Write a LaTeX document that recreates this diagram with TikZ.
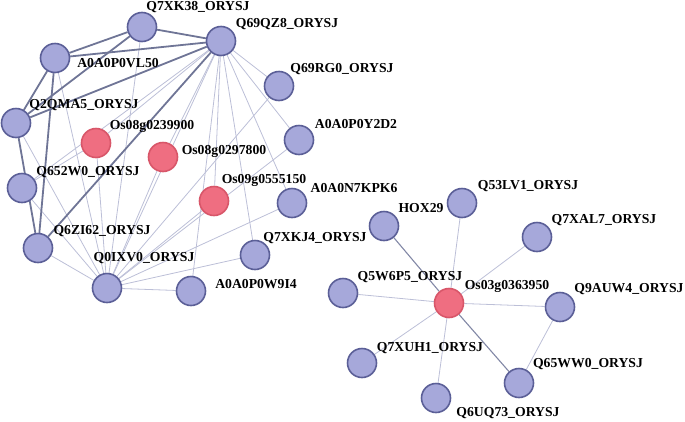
\documentclass[tikz,border=0pt]{standalone}
\usepackage{fontspec}
\setmainfont{Liberation Serif}
\usetikzlibrary{backgrounds}
\definecolor{protfill}{HTML}{A6A8DA}
\definecolor{protline}{HTML}{5B5F97}
\definecolor{genefill}{HTML}{EF6E81}
\definecolor{geneline}{HTML}{D85669}
\definecolor{strongedge}{HTML}{6F7596}
\definecolor{midedge}{HTML}{8288A6}
\definecolor{weakedge}{HTML}{BCBFD7}
\begin{document}
\begin{tikzpicture}[x=1pt,y=-1pt,
  prot/.style={circle, draw=protline, fill=protfill, line width=1.6pt, minimum size=29pt, inner sep=0pt},
  gene/.style={circle, draw=geneline, fill=genefill, line width=1.6pt, minimum size=29pt, inner sep=0pt},
  lab/.style={anchor=base, inner sep=0pt, font=\fontsize{13.7}{14}\selectfont\bfseries},
  strong/.style={draw=strongedge, line width=1.8pt},
  medium/.style={draw=midedge, line width=1.1pt},
  weak/.style={draw=weakedge, line width=0.8pt}]
\useasboundingbox (0,0) rectangle (685,421);

\node[prot] (q7xk38) at (142,27) {};
\node[prot] (q69qz8) at (221,41) {};
\node[prot] (vl50) at (55,58) {};
\node[prot] (q2qma5) at (16,123) {};
\node[gene] (os239900) at (96,143) {};
\node[gene] (os297800) at (163,157) {};
\node[prot] (q69rg0) at (279,86) {};
\node[prot] (y2d2) at (299,140) {};
\node[prot] (q652w0) at (22,188) {};
\node[gene] (os555150) at (214,201) {};
\node[prot] (kpk6) at (292,203) {};
\node[prot] (q6zi62) at (38,248) {};
\node[prot] (q7xkj4) at (255,255) {};
\node[prot] (q0ixv0) at (107,288) {};
\node[prot] (w9i4) at (191,291) {};
\node[prot] (hox29) at (384,226) {};
\node[prot] (q53lv1) at (462,203) {};
\node[prot] (q7xal7) at (537,237) {};
\node[prot] (q5w6p5) at (343,293) {};
\node[gene] (os363950) at (449,303) {};
\node[prot] (q9auw4) at (560,307) {};
\node[prot] (q7xuh1) at (362,363) {};
\node[prot] (q65ww0) at (519,383) {};
\node[prot] (q6uq73) at (436,398) {};

\node[lab] (lq7xk38) at (198,10.6) {Q7XK38\_ORYSJ};
\node[lab] (lq69qz8) at (287,27.6) {Q69QZ8\_ORYSJ};
\node[lab] (lvl50) at (118,67.6) {A0A0P0VL50};
\node[lab] (lq2qma5) at (84,108.6) {Q2QMA5\_ORYSJ};
\node[lab] (los239900) at (152,129.6) {Os08g0239900};
\node[lab] (los297800) at (224,154.6) {Os08g0297800};
\node[lab] (lq69rg0) at (342,72.6) {Q69RG0\_ORYSJ};
\node[lab] (ly2d2) at (356,128.6) {A0A0P0Y2D2};
\node[lab] (lq652w0) at (88,175.6) {Q652W0\_ORYSJ};
\node[lab] (los555150) at (264,183.6) {Os09g0555150};
\node[lab] (lkpk6) at (354,192.6) {A0A0N7KPK6};
\node[lab] (lq6zi62) at (102,234.6) {Q6ZI62\_ORYSJ};
\node[lab] (lq7xkj4) at (315,241.6) {Q7XKJ4\_ORYSJ};
\node[lab] (lq0ixv0) at (144,261.6) {Q0IXV0\_ORYSJ};
\node[lab] (lw9i4) at (256,288.6) {A0A0P0W9I4};
\node[lab] (lhox29) at (421,212.6) {HOX29};
\node[lab] (lq53lv1) at (528,189.6) {Q53LV1\_ORYSJ};
\node[lab] (lq7xal7) at (604,223.6) {Q7XAL7\_ORYSJ};
\node[lab] (lq5w6p5) at (410,280.6) {Q5W6P5\_ORYSJ};
\node[lab] (los363950) at (507,289.6) {Os03g0363950};
\node[lab] (lq9auw4) at (629,292.6) {Q9AUW4\_ORYSJ};
\node[lab] (lq7xuh1) at (430,351.6) {Q7XUH1\_ORYSJ};
\node[lab] (lq65ww0) at (588,367.6) {Q65WW0\_ORYSJ};
\node[lab] (lq6uq73) at (508,416.6) {Q6UQ73\_ORYSJ};

\begin{scope}[on background layer]
\foreach \t in {q0ixv0,os297800,os239900,q652w0,os555150,w9i4,q7xkj4,kpk6,y2d2,q69rg0}
  \draw[weak] (q69qz8) -- (\t);
\foreach \t in {q2qma5,vl50,q7xk38,os239900,os297800,os555150,y2d2,q69rg0,kpk6,q7xkj4,w9i4,q6zi62,q652w0}
  \draw[weak] (q0ixv0) -- (\t);
\draw[weak] (q652w0) -- (os239900);
\foreach \t in {q53lv1,q7xal7,q5w6p5,q9auw4,q7xuh1,q6uq73}
  \draw[weak] (os363950) -- (\t);
\draw[weak] (q9auw4) -- (q65ww0);
\draw[medium] (os363950) -- (hox29);
\draw[medium] (os363950) -- (q65ww0);
\draw[strong] (q7xk38) -- (q69qz8);
\draw[strong] (q7xk38) -- (vl50);
\draw[strong] (q7xk38) -- (q2qma5);
\draw[strong] (vl50) -- (q69qz8);
\draw[strong] (q2qma5) -- (q69qz8);
\draw[strong] (vl50) -- (q2qma5);
\draw[strong] (vl50) -- (q6zi62);
\draw[strong] (q2qma5) -- (q6zi62);
\draw[strong] (q69qz8) -- (q6zi62);
\end{scope}
\end{tikzpicture}
\end{document}
